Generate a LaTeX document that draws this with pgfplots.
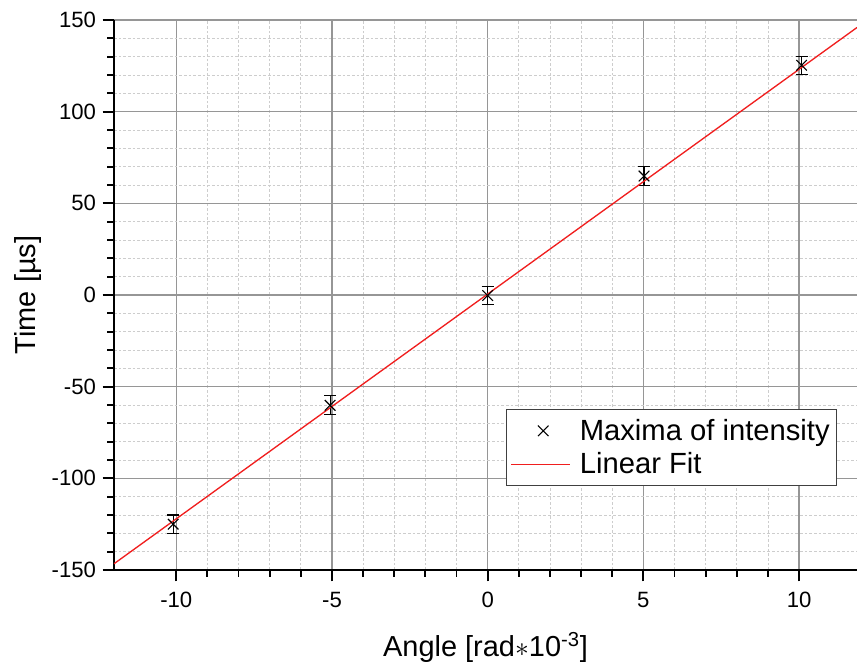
\documentclass[border=0pt]{standalone}
\usepackage{pgfplots}
\pgfplotsset{compat=1.18}
\usepackage{fontspec}
\setmainfont{Liberation Sans}

\definecolor{majorgrid}{RGB}{150,150,150}
\definecolor{minorgrid}{RGB}{205,205,205}
\definecolor{fitred}{RGB}{240,30,30}

\pgfplotsset{
  crosslegend/.style={legend image code/.code={%
    \draw[black, mark=x, mark size=5.6pt, mark options={line width=0.8pt}] plot coordinates {(22pt,0pt)};
    \path (-2pt,0pt) (47pt,0pt);}},
  fitlegend/.style={legend image code/.code={%
    \draw[draw=fitred, line width=1.1pt] (-2pt,0pt) -- (42pt,0pt);
    \path (47pt,0pt);}},
}

\begin{document}
\begin{tikzpicture}
\useasboundingbox (-85.5pt,-75pt) rectangle (557.25pt,427.5pt);
\begin{axis}[
  at={(0,0)}, anchor=south west,
  scale only axis,
  width=557.25pt, height=412.5pt,
  xmin=-12, xmax=11.86,
  ymin=-150, ymax=150,
  axis lines=left,
  axis line style={-, line width=1.5pt, black},
  xtick={-10,-5,0,5,10},
  ytick={-150,-100,-50,0,50,100,150},
  minor x tick num=4,
  minor y tick num=4,
  tick align=outside,
  major tick length=8.6pt,
  minor tick length=5.2pt,
  every tick/.style={black, line width=1.4pt},
  grid=both,
  major grid style={majorgrid, line width=0.9pt},
  minor grid style={minorgrid, line width=0.6pt, dash pattern=on 2pt off 1.5pt},
  /pgf/number format/assume math mode=true,
  ticklabel style={font=\fontsize{16.6}{19}\selectfont},
  xticklabel style={anchor=base, yshift=-19.9pt},
  yticklabel style={anchor=east, xshift=-1.4pt},
  xlabel={Angle [rad$\ast$10\textsuperscript{-3}]},
  ylabel={Time [µs]},
  label style={font=\fontsize{21.7}{26}\selectfont},
  xlabel style={at={(axis description cs:0.5,-0.1576)}, anchor=base},
  ylabel style={at={(axis description cs:-0.1063,0.5)}, anchor=base},
  legend cell align=left,
  legend style={
    at={(rel axis cs:0.973,0.153)}, anchor=south east,
    draw=black!75, line width=0.8pt, fill=white,
    font=\fontsize{21.9}{26}\selectfont,
    inner xsep=3pt, inner ysep=5pt,
    row sep=3.8pt,
  },
]
% measured peak times with their uncertainties
\addplot[
  only marks, black,
  mark=x, mark size=5.6pt,
  mark options={line width=0.8pt},
  crosslegend,
  error bars/.cd,
    y dir=both, y explicit,
    error bar style={line width=0.8pt},
    error mark options={rotate=90, mark size=4.5pt, line width=0.8pt},
] table[x=x, y=y, y error=e] {
  x      y       e
  -10.10 -125.0  5.0
  -5.06  -60.2   5.2
  0.00   -0.3    4.8
  5.02   64.9    5.0
  10.08  125.3   5.0
};
\addlegendentry{Maxima of intensity}

% least-squares line through the maxima
\addplot[fitred, line width=1pt, fitlegend]
  coordinates {(-12,-146.6) (11.86,145.9)};
\addlegendentry{Linear Fit}
\end{axis}
\end{tikzpicture}
\end{document}
